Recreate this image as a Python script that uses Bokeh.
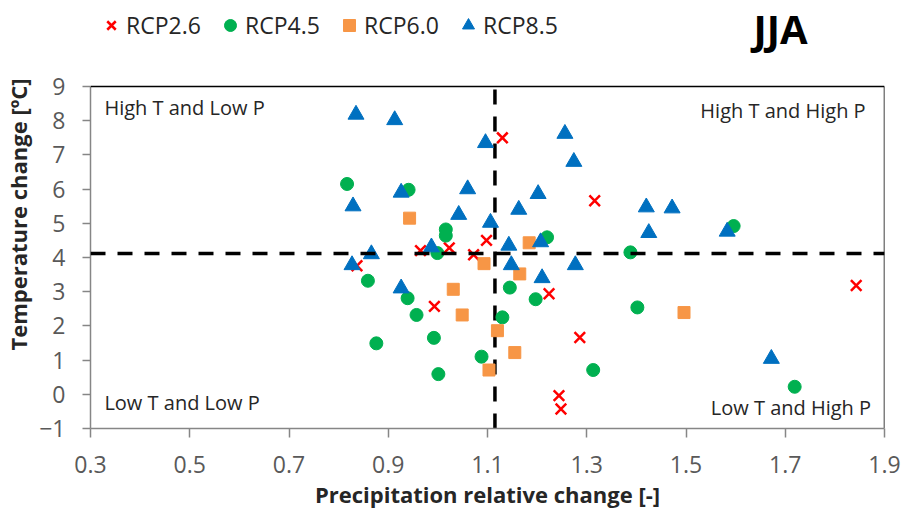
from bokeh.plotting import figure
from bokeh.models import Range1d, FixedTicker, Span, Label, Legend, LegendItem
from bokeh.embed import file_html
from bokeh.resources import INLINE

# ---- data ----
rcp26_p = [0.837, 0.965, 0.993, 1.023, 1.072, 1.098, 1.130, 1.224, 1.244, 1.248, 1.286, 1.316, 1.843]
rcp26_t = [3.76, 4.20, 2.57, 4.28, 4.08, 4.50, 7.50, 2.94, -0.04, -0.43, 1.66, 5.66, 3.18]

rcp45_p = [0.817, 0.859, 0.876, 0.939, 0.941, 0.957, 0.992, 0.999, 1.001, 1.016, 1.016,
           1.088, 1.130, 1.145, 1.197, 1.220, 1.313, 1.388, 1.402, 1.596, 1.719]
rcp45_t = [6.15, 3.32, 1.49, 2.81, 5.98, 2.32, 1.65, 4.13, 0.59, 4.82, 4.64,
           1.10, 2.25, 3.12, 2.78, 4.59, 0.71, 4.15, 2.54, 4.92, 0.22]

rcp60_p = [0.943, 1.031, 1.049, 1.093, 1.103, 1.120, 1.155, 1.165, 1.184, 1.496]
rcp60_t = [5.15, 3.07, 2.32, 3.82, 0.71, 1.86, 1.22, 3.52, 4.43, 2.39]

rcp85_p = [0.827, 0.829, 0.835, 0.866, 0.913, 0.926, 0.926, 0.987, 1.042, 1.060, 1.096, 1.106,
           1.143, 1.148, 1.163, 1.202, 1.207, 1.210, 1.256, 1.274, 1.277, 1.420, 1.425, 1.472,
           1.583, 1.672]
rcp85_t = [3.78, 5.50, 8.18, 4.10, 8.02, 5.90, 3.10, 4.30, 5.25, 6.00, 7.35, 5.02,
           4.35, 3.78, 5.40, 5.86, 4.45, 3.40, 7.62, 6.80, 3.78, 5.47, 4.72, 5.44,
           4.76, 1.04]

series_names = ["RCP2.6", "RCP4.5", "RCP6.0", "RCP8.5"]
x_ticks = [0.3, 0.5, 0.7, 0.9, 1.1, 1.3, 1.5, 1.7, 1.9]
x_tick_labels = ["0.3", "0.5", "0.7", "0.9", "1.1", "1.3", "1.5", "1.7", "1.9"]
y_ticks = [-1, 0, 1, 2, 3, 4, 5, 6, 7, 8, 9]
x_min, x_max = 0.3, 1.9
y_min, y_max = -1, 9
p_threshold = 1.115
t_threshold = 4.12
quadrant_labels = ["High T and Low P", "High T and High P", "Low T and Low P", "Low T and High P"]
season = "JJA"

FONT = "Open Sans"

# layout geometry (pixels)
W, H = 906, 517
FRAME_LEFT, FRAME_RIGHT = 90, 884
PLOT_TOP_PX, PLOT_BOTTOM_PX = 86, 428
# the frame extends to the top of the canvas so the legend/title row is drawable
y_top = y_min + (y_max - y_min) * PLOT_BOTTOM_PX / (PLOT_BOTTOM_PX - PLOT_TOP_PX)

p = figure(width=W, height=H, output_backend="svg", toolbar_location=None, title=None,
           x_range=Range1d(x_min, x_max), y_range=Range1d(y_min, y_top),
           min_border_left=FRAME_LEFT, min_border_right=W - FRAME_RIGHT,
           min_border_top=0, min_border_bottom=H - PLOT_BOTTOM_PX)
p.xgrid.visible = False
p.ygrid.visible = False
p.outline_line_color = None
p.background_fill_color = "white"
p.border_fill_color = "white"

for ax in (p.xaxis[0], p.yaxis[0]):
    ax.axis_line_color = "#868686"
    ax.axis_line_width = 1.5
    ax.major_tick_line_color = "#868686"
    ax.major_tick_line_width = 1.5
    ax.major_tick_in = 0
    ax.minor_tick_line_color = None
    ax.major_label_text_font = FONT
    ax.major_label_text_font_size = "23px"
    ax.major_label_text_color = "#595959"
    ax.axis_label_text_font = FONT
    ax.axis_label_text_font_size = "22px"
    ax.axis_label_text_font_style = "bold"
    ax.axis_label_text_color = "#262626"

p.xaxis[0].ticker = FixedTicker(ticks=x_ticks)
p.xaxis[0].major_label_overrides = dict(zip(x_ticks, x_tick_labels))
p.xaxis[0].major_tick_out = 9
p.xaxis[0].major_label_standoff = 18
p.xaxis[0].axis_label_standoff = 3
p.xaxis[0].axis_label = "Precipitation relative change [-]"

p.yaxis[0].ticker = FixedTicker(ticks=y_ticks)
p.yaxis[0].bounds = (y_min, y_max)
p.yaxis[0].major_tick_out = 8
p.yaxis[0].major_label_standoff = 17
p.yaxis[0].axis_label_standoff = 3
p.yaxis[0].axis_label = "Temperature change [ºC]"

# top / right border lines of the plot area
p.add_layout(Span(location=y_max, dimension="width", line_color="#000000", line_width=1.5))
p.segment(x0=[x_max], y0=[y_min], x1=[x_max], y1=[y_max], line_color="#000000", line_width=1.5)

# threshold dashed lines
p.add_layout(Span(location=t_threshold, dimension="width", line_color="black",
                  line_width=3.5, line_dash="15 12"))
p.segment(x0=[p_threshold], y0=[y_min], x1=[p_threshold], y1=[y_max], line_color="black",
          line_width=3.5, line_dash="15 12")

r26 = p.scatter(rcp26_p, rcp26_t, marker="x", size=15, line_color="#FF0000", line_width=2.5)
r45 = p.scatter(rcp45_p, rcp45_t, marker="circle", size=13, fill_color="#00B050", line_color="#00B050")
r60 = p.scatter(rcp60_p, rcp60_t, marker="square", size=12, fill_color="#F79646", line_color="#F79646")
r85 = p.scatter(rcp85_p, rcp85_t, marker="triangle", size=16, fill_color="#0070C0", line_color="#0070C0")

legend = Legend(items=[LegendItem(label=n, renderers=[r]) for n, r in zip(series_names, [r26, r45, r60, r85])],
                orientation="horizontal", location=(6, 387),
                glyph_width=30, glyph_height=30, label_standoff=0, label_width=89, spacing=0,
                padding=0, margin=0, border_line_alpha=0, background_fill_alpha=0,
                label_text_font=FONT, label_text_font_size="23px", label_text_color="#262626")
p.add_layout(legend, "center")

# quadrant labels
qstyle = dict(text_font=FONT, text_font_size="20px", text_color="#262626", text_baseline="alphabetic")
p.add_layout(Label(x=0.328, y=8.38, text=quadrant_labels[0], text_align="left", **qstyle))
p.add_layout(Label(x=1.862, y=8.29, text=quadrant_labels[1], text_align="right", **qstyle))
p.add_layout(Label(x=0.328, y=-0.25, text=quadrant_labels[2], text_align="left", **qstyle))
p.add_layout(Label(x=1.873, y=-0.40, text=quadrant_labels[3], text_align="right", **qstyle))

# season title
p.add_layout(Label(x=1.636, y=10.71, text=season, text_align="left", text_baseline="alphabetic",
                   text_font=FONT, text_font_size="40px", text_font_style="bold", text_color="black"))

open("out.html", "w").write(file_html(p, INLINE))
